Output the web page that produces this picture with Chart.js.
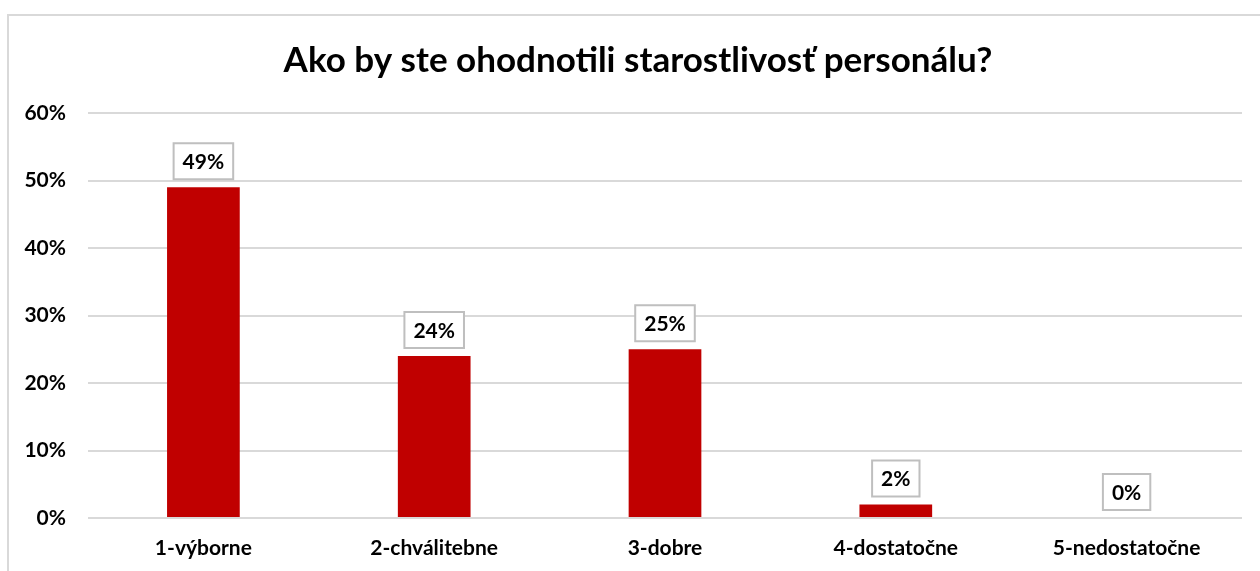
<!DOCTYPE html>
<html>
<head>
<meta charset="utf-8">
<script src="https://cdn.jsdelivr.net/npm/chart.js@4.4.1/dist/chart.umd.min.js"></script>
<style>
  html, body { margin: 0; padding: 0; background: #fff; }
  #wrap { position: relative; width: 1260px; height: 571px; overflow: hidden; }
  #frame { position: absolute; left: 7px; top: 14px; width: 1300px; height: 600px; border: 2px solid #d9d9d9; box-sizing: border-box; }
  canvas { position: absolute; left: 0; top: 0; }
</style>
</head>
<body>
<div id="wrap">
  <div id="frame"></div>
  <canvas id="c" width="1260" height="571"></canvas>
</div>
<script>
const titleText = 'Ako by ste ohodnotili starostlivosť personálu?';
const categories = ['1-výborne', '2-chválitebne', '3-dobre', '4-dostatočne', '5-nedostatočne'];
const shares = [49, 24, 25, 2, 0];
const yTicks = [0, 10, 20, 30, 40, 50, 60];

const FONT = 'Lato, "Liberation Sans", sans-serif';

// Boxed value labels above each bar
const boxLabels = {
  id: 'boxLabels',
  afterDatasetsDraw(chart) {
    const ctx = chart.ctx;
    const meta = chart.getDatasetMeta(0);
    ctx.save();
    ctx.font = 'bold 21px ' + FONT;
    ctx.textAlign = 'center';
    ctx.textBaseline = 'middle';
    meta.data.forEach((bar, i) => {
      const txt = shares[i] + '%';
      const w = ctx.measureText(txt).width + 18;
      const h = 36;
      const bottom = bar.y - 8;
      const x0 = bar.x - w / 2;
      ctx.fillStyle = '#ffffff';
      ctx.fillRect(x0, bottom - h, w, h);
      ctx.strokeStyle = '#bfbfbf';
      ctx.lineWidth = 2;
      ctx.strokeRect(x0, bottom - h, w, h);
      ctx.fillStyle = '#000000';
      ctx.fillText(txt, bar.x, bottom - h / 2 + 1);
    });
    ctx.restore();
  }
};

// Center the title over the framed area rather than the whole canvas
const titleShift = {
  id: 'titleShift',
  afterLayout(chart) {
    if (chart.titleBlock) {
      chart.titleBlock.left = 34;
      chart.titleBlock.right = chart.chartArea.right;
      chart.titleBlock.width = chart.titleBlock.right - chart.titleBlock.left;
    }
  }
};

new Chart(document.getElementById('c'), {
  type: 'bar',
  data: {
    labels: categories,
    datasets: [{
      data: shares,
      backgroundColor: '#c00000',
      borderWidth: 0,
      barPercentage: 0.63,
      categoryPercentage: 0.5
    }]
  },
  options: {
    responsive: false,
    devicePixelRatio: 1,
    animation: false,
    layout: { padding: { left: 0, right: 18, top: 0, bottom: 0 } },
    plugins: {
      legend: { display: false },
      tooltip: { enabled: false },
      title: {
        display: true,
        text: titleText,
        color: '#000',
        font: { family: FONT, size: 35, weight: 'bold' },
        padding: { top: 40, bottom: 31 }
      }
    },
    scales: {
      x: {
        grid: { display: false, drawTicks: false },
        border: { display: false },
        ticks: {
          color: '#000',
          font: { family: FONT, size: 21, weight: 'bold' },
          padding: 18
        },
        afterFit(scale) { scale.height = 53; }
      },
      y: {
        min: 0,
        max: 60,
        afterBuildTicks(scale) { scale.ticks = yTicks.map(v => ({ value: v })); },
        grid: { color: '#d9d9d9', lineWidth: 2, drawTicks: false },
        border: { display: false },
        ticks: {
          color: '#000',
          font: { family: FONT, size: 21, weight: 'bold' },
          padding: 22,
          callback: v => v + '%'
        },
        afterFit(scale) { scale.width = 88; }
      }
    }
  },
  plugins: [boxLabels, titleShift]
});
</script>
</body>
</html>
